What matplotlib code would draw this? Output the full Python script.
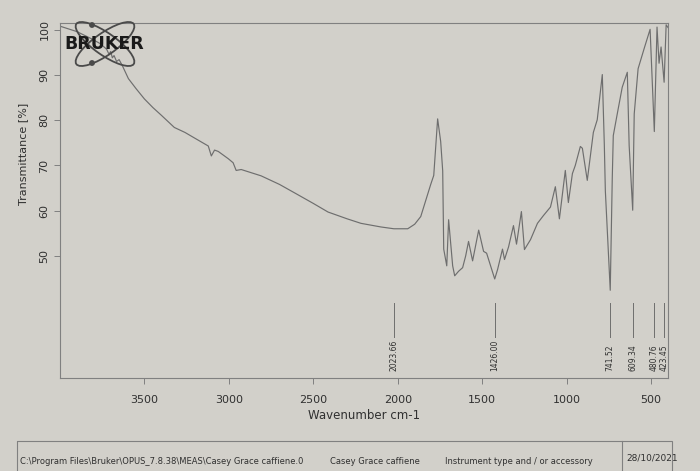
import matplotlib.pyplot as plt
from matplotlib.patches import Ellipse, Rectangle, Circle

# Wavenumber (cm-1) and transmittance (%)
wavenumber = [4000, 3900, 3813, 3760, 3724, 3710, 3700, 3690, 3680, 3665, 3650,
              3630, 3595, 3550, 3500, 3450, 3400, 3323, 3260, 3205, 3122, 3104,
              3085, 3063, 3004, 2975, 2957, 2927, 2809, 2700, 2614, 2500, 2413,
              2300, 2218, 2100, 2023, 1941, 1900, 1864, 1805, 1787, 1764, 1746,
              1734, 1728, 1710, 1699, 1675, 1663, 1640, 1616, 1598, 1581, 1557,
              1521, 1492, 1474, 1426, 1409, 1380, 1368, 1344, 1315, 1297, 1268,
              1250, 1214, 1173, 1138, 1096, 1067, 1043, 1008, 990, 966, 949, 919,
              907, 878, 842, 819, 789, 777, 771, 742, 730, 724, 700, 671, 641,
              630, 609, 600, 577, 540, 506, 481, 465, 453, 441, 423, 411, 400]
transmittance = [100.8, 99.6, 98.0, 96.9, 95.7, 94.6, 95.2, 93.8, 94.3, 93.0, 93.4,
                 92.0, 89.2, 87.0, 84.7, 82.8, 81.1, 78.4, 77.3, 76.1, 74.3, 72.1,
                 73.4, 73.1, 71.5, 70.6, 68.9, 69.1, 67.7, 65.8, 64.0, 61.6, 59.7,
                 58.2, 57.2, 56.4, 56.0, 56.0, 57.0, 58.7, 65.8, 67.8, 80.3, 75.3,
                 68.8, 51.5, 47.8, 58.0, 47.8, 45.6, 46.6, 47.4, 50.0, 53.2, 48.9,
                 55.7, 51.0, 50.6, 44.9, 47.0, 51.5, 49.2, 52.0, 56.7, 52.6, 59.8,
                 51.4, 53.6, 57.2, 58.9, 60.8, 65.3, 58.2, 68.9, 61.8, 68.2, 70.0,
                 74.2, 73.8, 66.7, 77.3, 80.1, 90.1, 74.5, 64.4, 42.4, 67.2, 76.6,
                 81.5, 87.3, 90.6, 74.4, 60.1, 81.4, 91.4, 96.0, 100.1, 77.5, 100.6,
                 92.6, 96.2, 88.4, 101.1, 100.5]

peak_labels = [2023.66, 1426.00, 741.52, 609.34, 480.76, 423.45]
x_ticks = [3500, 3000, 2500, 2000, 1500, 1000, 500]
y_ticks = [50, 60, 70, 80, 90, 100]

footer_texts = [r"C:\Program Files\Bruker\OPUS_7.8.38\MEAS\Casey Grace caffiene.0",
                "Casey Grace caffiene",
                "Instrument type and / or accessory"]
footer_date = "28/10/2021"

paper = "#d2d0ca"
line_col = "#6e6e6e"
frame_col = "#808080"
text_col = "#303030"

fig = plt.figure(figsize=(7, 4.71), dpi=100, facecolor=paper)
ax = fig.add_axes([60 / 700, 1 - 378 / 471, 608 / 700, 355 / 471])
ax.set_facecolor(paper)

ax.plot(wavenumber, transmittance, color=line_col, linewidth=0.85)

# peak markers drawn at the bottom like OPUS does
for p in peak_labels:
    ax.plot([p, p], [32, 39.5], color=line_col, linewidth=0.7)
    ax.text(p, 24.6, f"{p:.2f}", rotation=90, ha="center", va="bottom",
            fontsize=5.5, color=text_col)

ax.set_xlim(4000, 400)
ax.set_ylim(23, 101.5)
ax.set_xticks(x_ticks)
ax.set_yticks(y_ticks)
ax.tick_params(axis="both", direction="out", length=4, width=0.7,
               colors=frame_col, labelcolor=text_col, labelsize=8)
ax.tick_params(axis="x", pad=8)
for lbl in ax.get_yticklabels():
    lbl.set_rotation(90)
    lbl.set_va("center")
for s in ax.spines.values():
    s.set_color(frame_col)
    s.set_linewidth(0.8)

ax.set_xlabel("Wavenumber cm-1", fontsize=8.5, color=text_col, labelpad=3)
ax.set_ylabel("Transmittance [%]", fontsize=8, color=text_col)
ax.yaxis.set_label_coords(-0.052, 0.63)

# overlay in pixel units for the logo and the footer box
ov = fig.add_axes([0, 0, 1, 1], zorder=5)
ov.set_xlim(0, 700)
ov.set_ylim(471, 0)
ov.axis("off")
ov.patch.set_alpha(0)

logo_col = "#4a4a4a"
for ang in (35, -35):
    ov.add_patch(Ellipse((105, 44), 70, 22, angle=ang, fill=False,
                         edgecolor=logo_col, linewidth=1.3))
ov.add_patch(Circle((92, 25), 2.2, color=logo_col))
ov.add_patch(Circle((92, 63), 2.2, color=logo_col))
ov.text(104, 44, "BRUKER", fontsize=12.5, fontweight="heavy", color="#1a1a1a",
        ha="center", va="center")

ov.add_patch(Rectangle((17, 441), 655, 40, fill=False, edgecolor=frame_col,
                       linewidth=0.8))
ov.plot([622, 622], [441, 471], color=frame_col, linewidth=0.8)
for xpos, txt in zip([20, 330, 445], footer_texts):
    ov.text(xpos, 462, txt, fontsize=6, color=text_col, ha="left", va="center")
ov.text(626, 458, footer_date, fontsize=6.5, color=text_col, ha="left", va="center")

fig.savefig("out.png", dpi=100, facecolor=paper)
